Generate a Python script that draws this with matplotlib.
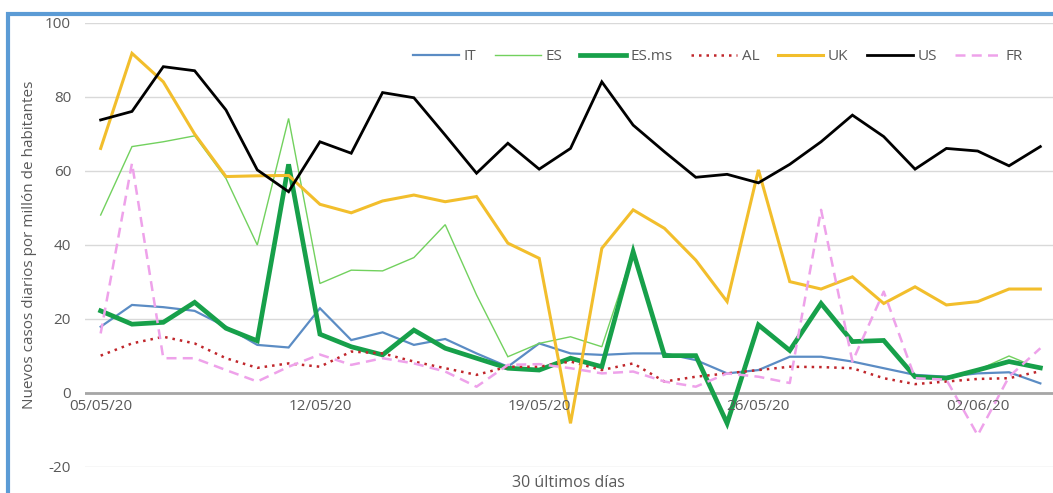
import numpy as np
import pandas as pd
import matplotlib
matplotlib.use("Agg")
import matplotlib.pyplot as plt
from matplotlib.patches import Rectangle

plt.rcParams['font.family'] = ['Open Sans', 'DejaVu Sans']
plt.rcParams['axes.unicode_minus'] = False

# 05/05/20 .. 04/06/20, one value per day
dias = pd.date_range("2020-05-05", "2020-06-04", freq="D")
etiquetas = ["05/05/20", "12/05/20", "19/05/20", "26/05/20", "02/06/20"]

IT = [17.9, 23.8, 23.2, 22.2, 17.9, 13.0, 12.3, 22.9, 14.3, 16.4, 13.0, 14.6, 10.7, 7.1, 13.4,
      10.7, 10.3, 10.7, 10.7, 8.9, 5.3, 6.2, 9.8, 9.8, 8.5, 6.7, 4.9, 4.4, 5.3, 5.6, 2.6]
ES = [48.1, 66.6, 67.9, 69.5, 58.0, 40.0, 74.2, 29.6, 33.2, 33.0, 36.6, 45.5, 26.5, 9.8, 13.4,
      15.2, 12.5, 38.2, 10.1, 10.1, -8.2, 18.4, 11.2, 24.2, 13.9, 14.2, 4.4, 4.0, 6.2, 10.0, 6.5]
ES_ms = [22.2, 18.6, 19.1, 24.5, 17.5, 14.1, 61.8, 15.9, 12.5, 10.3, 17.0, 12.1, 9.4, 6.7, 6.2,
         9.4, 7.1, 38.2, 10.1, 10.1, -8.2, 18.4, 11.5, 24.2, 13.9, 14.2, 4.4, 4.0, 6.2, 8.5, 6.8]
AL = [10.1, 13.4, 15.2, 13.4, 9.4, 6.8, 8.0, 7.1, 11.2, 10.7, 8.5, 6.7, 4.9, 7.1, 7.1,
      8.5, 6.2, 8.0, 3.1, 4.4, 5.3, 6.2, 7.1, 7.0, 6.7, 4.0, 2.4, 3.1, 3.8, 4.0, 5.9]
UK = [66.1, 91.8, 84.1, 70.0, 58.5, 58.7, 58.8, 51.0, 48.7, 51.9, 53.5, 51.7, 53.1, 40.5, 36.4,
      -8.2, 39.1, 49.5, 44.5, 35.9, 24.7, 60.3, 30.1, 28.1, 31.4, 24.2, 28.7, 23.8, 24.7, 28.1, 28.1]
US = [73.8, 76.1, 88.2, 87.1, 76.5, 60.3, 54.4, 67.9, 64.8, 81.2, 79.8, 69.7, 59.4, 67.5, 60.5,
      66.1, 84.1, 72.4, 65.2, 58.3, 59.1, 56.8, 61.8, 67.9, 75.1, 69.3, 60.5, 66.1, 65.4, 61.4, 66.6]
FR = [16.1, 62.1, 9.4, 9.4, 6.2, 3.1, 7.1, 10.4, 7.6, 9.4, 8.0, 5.8, 1.7, 7.6, 7.8,
      6.7, 5.3, 5.8, 3.1, 1.7, 5.3, 4.4, 2.7, 49.5, 8.5, 27.4, 4.0, 3.6, -11.4, 4.4, 12.1]

series = [
    ("IT", IT, dict(color="#5B8CC4", lw=1.6)),
    ("ES", ES, dict(color="#72D15E", lw=1.0)),
    ("ES.ms", ES_ms, dict(color="#17A04A", lw=3.4)),
    ("AL", AL, dict(color="#C0262B", lw=1.8, ls=(0, (1, 2)))),
    ("UK", UK, dict(color="#F2BE2C", lw=2.2)),
    ("US", US, dict(color="#000000", lw=2.0)),
    ("FR", FR, dict(color="#EEA2EA", lw=1.8, ls=(0, (4, 2.5)))),
]

FS = 11
GRIS = "#595959"

W, H = 1053, 493
fig = plt.figure(figsize=(W / 100, H / 100), dpi=100)
ax = fig.add_axes([85 / W, 1 - 467 / H, (1056 - 85) / W, (467 - 23) / H])

x = np.arange(len(dias))
for nombre, vals, st in series:
    ax.plot(x, vals, label=nombre, solid_joinstyle="miter", **st)

ax.set_xlim(-0.5, len(dias) - 0.5)
ax.set_ylim(-20, 100)
ax.set_yticks(range(-20, 101, 20))
ax.grid(axis="y", color="#D9D9D9", lw=1)
ax.set_axisbelow(True)
ax.axhline(0, color="#A6A6A6", lw=2, zorder=1)
for s in ax.spines.values():
    s.set_visible(False)
ax.tick_params(axis="y", length=0, pad=10, labelsize=FS, labelcolor=GRIS)
ax.set_xticks([])

# date labels sit just under the zero line
fechas = [d.strftime("%d/%m/%y") for d in dias]
for i, f in enumerate(fechas):
    if f in etiquetas:
        ax.text(i, -1.5, f, ha="center", va="top", fontsize=FS, color=GRIS)

fig.text(30 / W, 1 - 245 / H, "Nuevos casos diarios por millón de habitantes", rotation=90,
         ha="center", va="center", fontsize=FS, color=GRIS)
fig.text(568 / W, 1 - 483 / H, "30 últimos días", ha="center", va="center",
         fontsize=11.5, color=GRIS)

fig.legend(loc="center", bbox_to_anchor=(718 / W, 1 - 57 / H), ncol=7, frameon=False,
           fontsize=FS, labelcolor=GRIS, handlelength=3.0, handletextpad=0.3,
           columnspacing=1.2)

fig.patches.append(Rectangle((8 / W, -0.1), 1.2, 1 - 14 / H + 0.1, transform=fig.transFigure,
                             fill=False, edgecolor="#5B9BD5", lw=3, zorder=10))

fig.savefig("out.png", dpi=100)
